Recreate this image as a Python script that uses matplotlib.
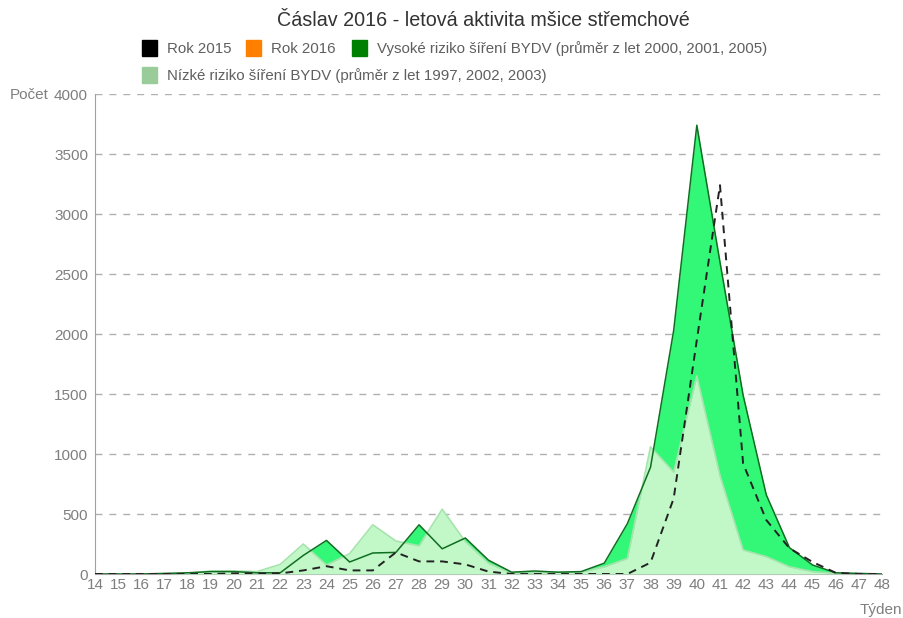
import matplotlib.pyplot as plt
import matplotlib.patches as mpatches
import numpy as np

plt.rcParams['font.family'] = ['Liberation Sans', 'DejaVu Sans']

tydny = list(range(14, 49))

# Rok 2015 (čárkovaná)
rok2015 = [0, 0, 0, 0, 0, 0, 5, 5, 5, 30, 65, 30, 30, 180, 105, 105, 80, 20,
           0, 0, 0, 0, 0, 0, 95, 630, 1950, 3240, 920, 450, 215, 100, 10, 0, 0]
# Rok 2016 - bez dat
rok2016 = []
# Vysoké riziko (průměr 2000, 2001, 2005)
vysoke = [0, 0, 0, 5, 10, 20, 20, 10, 10, 155, 280, 100, 175, 180, 410, 210, 300, 115,
          15, 25, 15, 20, 90, 420, 890, 2030, 3740, 2600, 1490, 660, 220, 75, 10, 5, 0]
# Nízké riziko (průměr 1997, 2002, 2003)
nizke = [0, 0, 0, 0, 5, 25, 25, 20, 80, 250, 75, 170, 410, 275, 235, 540, 270, 90,
         5, 10, 15, 15, 60, 130, 1060, 850, 1650, 820, 200, 145, 60, 20, 5, 0, 0]

fig = plt.figure(figsize=(9.04, 6.18), dpi=100)
ax = fig.add_axes([95/904, 1-574/618, (882-95)/904, (574-94)/618])

sede = '#7f7f7f'
ax.fill_between(tydny, vysoke, color='#33f777', lw=0, zorder=2)
ax.fill_between(tydny, nizke, color='#c2f8c8', lw=0, zorder=3)
ax.plot(tydny, nizke, color='#a6e4ae', lw=1.2, zorder=4)
ax.plot(tydny, vysoke, color='#0f6e20', lw=1.1, zorder=5)
ax.plot(tydny, rok2015, color='#222222', lw=1.4, ls=(0, (4, 3)), zorder=6)

ax.set_xlim(14, 48)
ax.set_ylim(0, 4000)
ax.set_xticks(tydny)
ax.set_yticks(np.arange(0, 4001, 500))
ax.tick_params(axis='both', length=0, labelsize=11, colors=sede, pad=5)
ax.tick_params(axis='x', pad=3)
for y in np.arange(500, 4001, 500):
    ax.axhline(y, color='#b0b0b0', lw=1, ls=(0, (5, 5)), zorder=1)
for s in ['top', 'right']:
    ax.spines[s].set_visible(False)
ax.spines['left'].set_color('#a0a0a0')
ax.spines['bottom'].set_color('#a0a0a0')

fig.text(10/904, 1-95/618, 'Počet', fontsize=11, color=sede, va='center', ha='left')
fig.text(904/904 - 0.002, 1-610/618, 'Týden', fontsize=11, color=sede, va='center', ha='right')

fig.text(483/904, 1-21/618, 'Čáslav 2016 - letová aktivita mšice střemchové',
         fontsize=14.2, color='#333333', ha='center', va='center')

# legenda
polozky = [('Rok 2015', '#000000', 142, 48), ('Rok 2016', '#ff8000', 246, 48),
           ('Vysoké riziko šíření BYDV (průměr z let 2000, 2001, 2005)', '#008000', 352, 48),
           ('Nízké riziko šíření BYDV (průměr z let 1997, 2002, 2003)', '#99cc99', 142, 75)]
for text, barva, x, y in polozky:
    fig.patches.append(mpatches.Rectangle((x/904, 1-(y+8)/618), 15/904, 16/618,
                                          transform=fig.transFigure, color=barva, figure=fig))
    fig.text((x+25)/904, 1-(y+1)/618, text, fontsize=10.8, color='#5f5f5f', va='center', ha='left')

fig.savefig('out.png', dpi=100)
